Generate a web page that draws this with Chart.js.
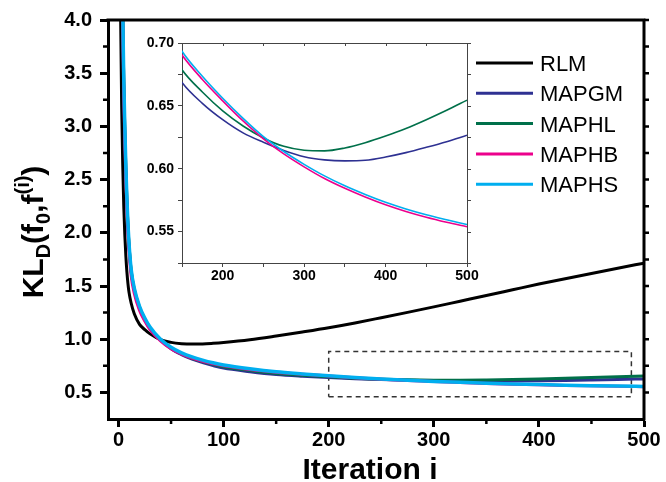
<!DOCTYPE html>
<html>
<head>
<meta charset="utf-8">
<script src="https://cdn.jsdelivr.net/npm/chart.js@4.4.0/dist/chart.umd.min.js"></script>
<style>
html, body { margin: 0; padding: 0; background: #fff; }
#wrap { position: relative; width: 666px; height: 482px; }
#wrap canvas { position: absolute; left: 0; top: 0; }
</style>
</head>
<body>
<div id="wrap">
    <canvas id="main" width="666" height="482"></canvas>
    <canvas id="inset" width="666" height="482"></canvas>
</div>
<script>
'use strict';

// итерации и значения KL для каждого метода
const iterations = [1, 2, 3, 4, 5, 6, 7, 8, 9, 10, 12, 15, 20, 25, 30, 40, 50, 60, 70, 80, 90, 100,
    125, 150, 175, 200, 225, 250, 275, 300, 325, 350, 375, 400, 425, 450, 475, 500];
const seriesNames = ['RLM', 'MAPGM', 'MAPHL', 'MAPHB', 'MAPHS'];
const rlm = [5.2, 4.05, 3.2, 2.65, 2.25, 1.98, 1.78, 1.63, 1.52, 1.44, 1.34, 1.24, 1.14, 1.09, 1.05,
    0.995, 0.97, 0.958, 0.954, 0.955, 0.961, 0.969,
    0.995, 1.03, 1.068, 1.108, 1.153, 1.202, 1.252, 1.304, 1.357, 1.41, 1.464, 1.518, 1.568, 1.618, 1.667, 1.715];
const mapgm = [8.8, 6.4, 4.95, 4.05, 3.4, 2.95, 2.58, 2.29, 2.05, 1.88, 1.64, 1.46, 1.29, 1.18, 1.1,
    0.99, 0.91, 0.855, 0.812, 0.78, 0.752, 0.728,
    0.695, 0.6686, 0.652, 0.639, 0.6285, 0.621, 0.6145, 0.6095, 0.607, 0.6062, 0.6067, 0.6093, 0.6128, 0.617, 0.6215, 0.6266];
const maphl = [8.9, 6.45, 4.97, 4.07, 3.42, 2.97, 2.6, 2.3, 2.06, 1.89, 1.65, 1.47, 1.3, 1.19, 1.105,
    0.995, 0.915, 0.862, 0.82, 0.79, 0.763, 0.74,
    0.706, 0.6787, 0.661, 0.646, 0.634, 0.6245, 0.6178, 0.6147, 0.6142, 0.6165, 0.6207, 0.626, 0.632, 0.639, 0.6465, 0.6545];
const maphb = [8.5, 6.2, 4.8, 3.95, 3.3, 2.86, 2.5, 2.22, 2.0, 1.83, 1.6, 1.43, 1.27, 1.17, 1.09,
    0.985, 0.91, 0.86, 0.822, 0.793, 0.769, 0.75,
    0.716, 0.6904, 0.671, 0.654, 0.638, 0.6238, 0.6118, 0.6015, 0.5922, 0.5844, 0.5775, 0.5713, 0.566, 0.5614, 0.5574, 0.5538];
const maphs = [9.0, 6.5, 5.0, 4.1, 3.45, 3.0, 2.62, 2.32, 2.08, 1.9, 1.66, 1.48, 1.31, 1.2, 1.115,
    1.0, 0.925, 0.872, 0.833, 0.803, 0.778, 0.758,
    0.722, 0.6934, 0.6735, 0.656, 0.64, 0.6255, 0.6137, 0.6035, 0.5943, 0.5864, 0.5795, 0.5733, 0.568, 0.5634, 0.5594, 0.5556];

// пунктирная рамка увеличенной области
const zoomBoxX = [200, 488, 488, 200, 200];
const zoomBoxY = [0.46, 0.46, 0.885, 0.885, 0.46];

// подписи осей
const xTicks = [0, 100, 200, 300, 400, 500];
const xMinorTicks = [50, 150, 250, 350, 450];
const yTicks = [0.5, 1.0, 1.5, 2.0, 2.5, 3.0, 3.5, 4.0];
const yMinorTicks = [0.75, 1.25, 1.75, 2.25, 2.75, 3.25, 3.75];
const insetXTicks = [150, 200, 250, 300, 350, 400, 450, 500];
const insetYTicks = [0.525, 0.55, 0.575, 0.6, 0.625, 0.65, 0.675, 0.7];

const seriesValues = [rlm, mapgm, maphl, maphb, maphs];
const seriesColors = ['#000000', '#2e3192', '#00704a', '#ec008c', '#00aeef'];

const FONT = "'Liberation Sans', Arial, sans-serif";
Chart.defaults.font.family = FONT;
Chart.defaults.color = '#000';

function makeDatasets(widths) {
    return seriesNames.map((name, k) => ({
        label: name,
        data: iterations.map((x, i) => ({ x: x, y: seriesValues[k][i] })),
        borderColor: seriesColors[k],
        borderWidth: widths[k],
        pointRadius: 0,
        cubicInterpolationMode: 'monotone',
        order: seriesNames.length - k, // MAPHS сверху
    }));
}

function fixTicks(list) {
    return (scale) => {
        scale.ticks = list.map((v) => ({ value: v }));
    };
}

/** Рамка, мелкие засечки, легенда и подписи осей основного графика */
const mainDecor = {
    id: 'mainDecor',
    afterDraw(chart) {
        const ctx = chart.ctx;
        const a = chart.chartArea;
        const x = chart.scales.x;
        const y = chart.scales.y;
        ctx.save();
        ctx.strokeStyle = '#000';
        ctx.lineWidth = 3;
        ctx.beginPath();
        ctx.moveTo(a.left - 1.5, a.top);
        ctx.lineTo(a.right, a.top);
        ctx.lineTo(a.right, a.bottom + 1.5);
        ctx.stroke();

        ctx.lineWidth = 2.5;
        ctx.beginPath();
        for (const v of yMinorTicks) {
            const py = y.getPixelForValue(v);
            ctx.moveTo(a.left - 5, py);
            ctx.lineTo(a.left, py);
        }
        for (const v of xMinorTicks) {
            const px = x.getPixelForValue(v);
            ctx.moveTo(px, a.bottom);
            ctx.lineTo(px, a.bottom + 5);
        }
        // засечки справа
        for (const v of yTicks.concat(yMinorTicks)) {
            const py = y.getPixelForValue(v);
            ctx.moveTo(a.right, py);
            ctx.lineTo(a.right + 5, py);
        }
        ctx.stroke();

        // легенда
        ctx.font = '22px ' + FONT;
        ctx.textBaseline = 'alphabetic';
        ctx.textAlign = 'left';
        seriesNames.forEach((name, k) => {
            const ly = 63 + k * 30.3;
            ctx.strokeStyle = seriesColors[k];
            ctx.lineWidth = 3;
            ctx.beginPath();
            ctx.moveTo(476, ly);
            ctx.lineTo(533, ly);
            ctx.stroke();
            ctx.fillStyle = '#000';
            ctx.fillText(name, 540, ly + 8);
        });

        // подпись оси X
        ctx.font = 'bold 30px ' + FONT;
        ctx.textAlign = 'center';
        ctx.fillText('Iteration i', 370, 479);

        // подпись оси Y с индексами
        const parts = [
            { t: 'KL', s: 30, dy: 0 },
            { t: 'D', s: 20, dy: 7 },
            { t: '(f', s: 30, dy: 0 },
            { t: '0', s: 20, dy: 7 },
            { t: ',f', s: 30, dy: 0 },
            { t: '(i)', s: 20, dy: -14 },
            { t: ')', s: 30, dy: 0 },
        ];
        let total = 0;
        for (const p of parts) {
            ctx.font = 'bold ' + p.s + 'px ' + FONT;
            p.w = ctx.measureText(p.t).width;
            total += p.w;
        }
        ctx.translate(43, 232);
        ctx.rotate(-Math.PI / 2);
        ctx.textAlign = 'left';
        let cx = -total / 2;
        for (const p of parts) {
            ctx.font = 'bold ' + p.s + 'px ' + FONT;
            ctx.fillText(p.t, cx, p.dy);
            cx += p.w;
        }
        ctx.restore();
    },
};

const boxDataset = {
    label: 'box',
    data: zoomBoxX.map((x, i) => ({ x: x, y: zoomBoxY[i] })),
    borderColor: '#333',
    borderWidth: 1.5,
    borderDash: [5, 4],
    pointRadius: 0,
    tension: 0,
    order: 10,
};

const mainChart = new Chart(document.getElementById('main'), {
    type: 'line',
    data: { datasets: makeDatasets([3, 3, 3, 3, 3.5]).concat([boxDataset]) },
    options: {
        responsive: false,
        animation: false,
        devicePixelRatio: 1,
        layout: { padding: { left: 0, top: 19, right: 22, bottom: 0 } },
        plugins: { legend: { display: false }, tooltip: { enabled: false } },
        scales: {
            x: {
                type: 'linear',
                min: -10,
                max: 500,
                afterBuildTicks: fixTicks(xTicks),
                afterFit: (s) => { s.height = 63; },
                grid: { drawOnChartArea: false, tickLength: 8, tickWidth: 3, tickColor: '#000' },
                border: { color: '#000', width: 3 },
                ticks: {
                    font: { size: 20, weight: 'bold' },
                    padding: 1,
                    maxRotation: 0,
                    autoSkip: false,
                    callback: (v) => String(v),
                },
            },
            y: {
                type: 'linear',
                min: 0.25,
                max: 4.0,
                afterBuildTicks: fixTicks(yTicks),
                afterFit: (s) => { s.width = 108; },
                grid: { drawOnChartArea: false, tickLength: 8, tickWidth: 3, tickColor: '#000' },
                border: { color: '#000', width: 3 },
                ticks: {
                    font: { size: 20, weight: 'bold' },
                    padding: 8,
                    autoSkip: false,
                    callback: (v) => v.toFixed(1),
                },
            },
        },
    },
    plugins: [mainDecor],
});

/** Рамка вставки сверху и справа */
const insetDecor = {
    id: 'insetDecor',
    afterDraw(chart) {
        const ctx = chart.ctx;
        const a = chart.chartArea;
        const x = chart.scales.x;
        const y = chart.scales.y;
        ctx.save();
        ctx.strokeStyle = '#444';
        ctx.lineWidth = 1;
        ctx.beginPath();
        ctx.moveTo(a.left, a.top + 0.5);
        ctx.lineTo(a.right + 0.5, a.top + 0.5);
        ctx.lineTo(a.right + 0.5, a.bottom);
        for (const v of insetYTicks) {
            const py = Math.round(y.getPixelForValue(v)) + 0.5;
            ctx.moveTo(a.right, py);
            ctx.lineTo(a.right + 4, py);
        }
        for (const v of insetXTicks) {
            const px = Math.round(x.getPixelForValue(v)) + 0.5;
            ctx.moveTo(px, a.top);
            ctx.lineTo(px, a.top + 3);
        }
        ctx.stroke();
        ctx.restore();
    },
};

const insetChart = new Chart(document.getElementById('inset'), {
    type: 'line',
    data: { datasets: makeDatasets([1.6, 1.6, 1.6, 1.6, 1.6]) },
    options: {
        responsive: false,
        animation: false,
        devicePixelRatio: 1,
        layout: { padding: { left: 132, top: 43, right: 199, bottom: 189 } },
        plugins: { legend: { display: false }, tooltip: { enabled: false } },
        scales: {
            x: {
                type: 'linear',
                min: 150,
                max: 500,
                afterBuildTicks: fixTicks(insetXTicks),
                afterFit: (s) => { s.height = 30; },
                grid: { drawOnChartArea: false, tickLength: 4, tickWidth: 1, tickColor: '#444' },
                border: { color: '#444', width: 1 },
                ticks: {
                    font: { size: 14, weight: 'bold' },
                    padding: 1,
                    maxRotation: 0,
                    autoSkip: false,
                    callback: (v) => (v % 100 === 0 ? String(v) : ''),
                },
            },
            y: {
                type: 'linear',
                min: 0.525,
                max: 0.7,
                afterBuildTicks: fixTicks(insetYTicks),
                afterFit: (s) => { s.width = 50; },
                grid: { drawOnChartArea: false, tickLength: 4, tickWidth: 1, tickColor: '#444' },
                border: { color: '#444', width: 1 },
                ticks: {
                    font: { size: 14, weight: 'bold' },
                    padding: 4,
                    autoSkip: false,
                    callback: (v) => (Math.abs(v * 20 - Math.round(v * 20)) < 1e-6 ? v.toFixed(2) : ''),
                },
            },
        },
    },
    plugins: [insetDecor],
});
</script>
</body>
</html>
